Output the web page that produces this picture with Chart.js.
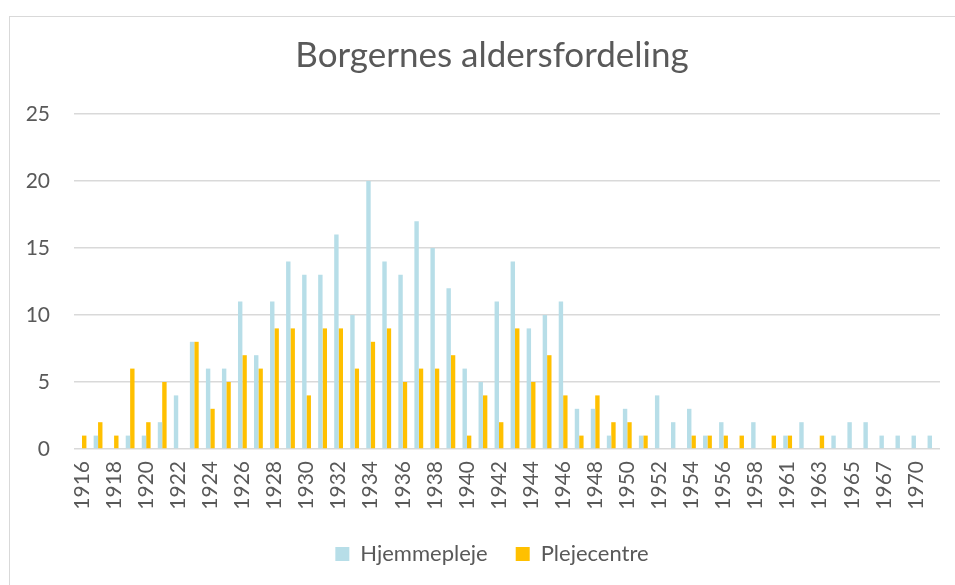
<!DOCTYPE html>
<html>
<head>
<meta charset="utf-8">
<script src="https://cdn.jsdelivr.net/npm/chart.js@4"></script>
<style>
  body { margin: 0; background: #fff; }
  #frame {
    position: absolute; left: 9px; top: 16px;
    width: 964px; height: 580px;
    border: 1px solid #d9d9d9;
  }
  canvas { display: block; }
</style>
</head>
<body>
<div id="frame"><canvas id="ageChart" width="964" height="558"></canvas></div>
<script>
const years = [
  "1916", "1917", "1918", "1919", "1920", "1921", "1922", "1923", "1924", "1925",
  "1926", "1927", "1928", "1929", "1930", "1931", "1932", "1933", "1934", "1935",
  "1936", "1937", "1938", "1939", "1940", "1941", "1942", "1943", "1944", "1945",
  "1946", "1947", "1948", "1949", "1950", "1951", "1952", "1953", "1954", "1955",
  "1956", "1957", "1958", "1960", "1961", "1962", "1963", "1964", "1965", "1966",
  "1967", "1968", "1970", "1971"
];

const hjemmepleje = [
  0, 1, 0, 1, 1, 2, 4, 8, 6, 6,
  11, 7, 11, 14, 13, 13, 16, 10, 20, 14,
  13, 17, 15, 12, 6, 5, 11, 14, 9, 10,
  11, 3, 3, 1, 3, 1, 4, 2, 3, 1,
  2, 0, 2, 0, 1, 2, 0, 1, 2, 2,
  1, 1, 1, 1
];

const plejecentre = [
  1, 2, 1, 6, 2, 5, 0, 8, 3, 5,
  7, 6, 9, 9, 4, 9, 9, 6, 8, 9,
  5, 6, 6, 7, 1, 4, 2, 9, 5, 7,
  4, 1, 4, 2, 2, 1, 0, 0, 1, 1,
  1, 1, 0, 1, 1, 0, 1, 0, 0, 0,
  0, 0, 0, 0
];

const yTicks = [0, 5, 10, 15, 20, 25];

const textColor = "#595959";
const gridColor = "#d9d9d9";
const fontFamily = "Lato, 'Open Sans', sans-serif";

const ctx = document.getElementById("ageChart").getContext("2d");

new Chart(ctx, {
  type: "bar",
  data: {
    labels: years,
    datasets: [
      {
        label: "Hjemmepleje",
        data: hjemmepleje,
        backgroundColor: "#b7dee8",
        categoryPercentage: 0.55,
        barPercentage: 1.0
      },
      {
        label: "Plejecentre",
        data: plejecentre,
        backgroundColor: "#ffc000",
        categoryPercentage: 0.55,
        barPercentage: 1.0
      }
    ]
  },
  options: {
    responsive: false,
    animation: false,
    layout: { padding: 0 },
    plugins: {
      title: {
        display: true,
        text: "Borgernes aldersfordeling",
        color: textColor,
        font: { family: fontFamily, size: 35, weight: "normal" },
        padding: { top: 18, bottom: 37 }
      },
      legend: {
        position: "bottom",
        labels: {
          color: textColor,
          font: { family: fontFamily, size: 22 },
          boxWidth: 14,
          boxHeight: 14,
          padding: 28
        }
      },
      tooltip: { enabled: false }
    },
    scales: {
      x: {
        grid: { display: false, drawTicks: false },
        border: { display: false },
        afterFit: scale => { scale.height = 66; },
        ticks: {
          color: textColor,
          font: { family: fontFamily, size: 21 },
          autoSkip: false,
          minRotation: 90,
          maxRotation: 90,
          padding: 12,
          callback: function (val, idx) {
            return idx % 2 === 0 ? this.getLabelForValue(val) : "";
          }
        }
      },
      y: {
        min: 0,
        max: 25,
        afterFit: scale => { scale.width = 64; },
        afterBuildTicks: scale => { scale.ticks = yTicks.map(v => ({ value: v })); },
        grid: { color: gridColor, lineWidth: 1.5, drawTicks: false },
        border: { display: false },
        ticks: {
          color: textColor,
          font: { family: fontFamily, size: 21 },
          padding: 24
        }
      },
      // empty right-hand margin so the title and legend stay centred on the frame
      spacer: {
        type: "linear",
        position: "right",
        afterFit: scale => { scale.width = 34; },
        grid: { display: false, drawTicks: false },
        border: { display: false },
        ticks: { display: false }
      }
    }
  }
});
</script>
</body>
</html>
